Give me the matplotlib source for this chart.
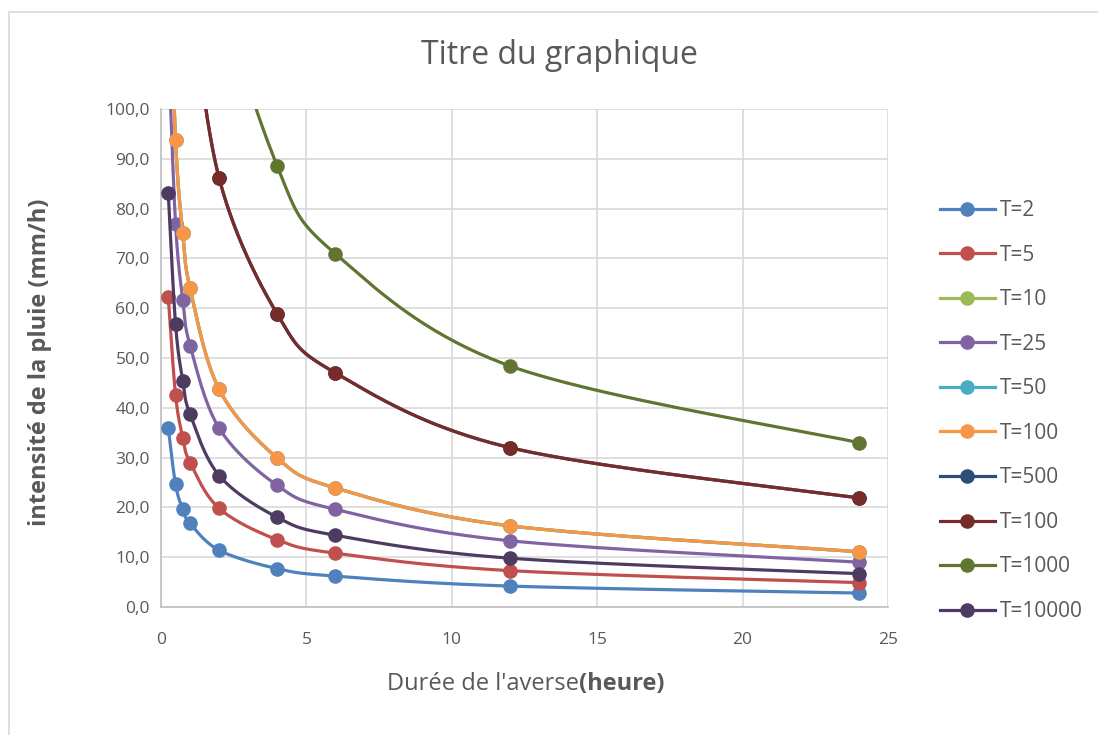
import numpy as np
import matplotlib
matplotlib.use("Agg")
import matplotlib.pyplot as plt
from matplotlib.lines import Line2D
from matplotlib.patches import Rectangle
from matplotlib.ticker import FuncFormatter, MultipleLocator

# Durées de l'averse (heures)
durees = [0.25, 0.5, 0.75, 1, 2, 4, 6, 12, 24]

# Intensités (mm/h) par période de retour
t2 = [36.0, 24.6, 19.6, 16.8, 11.4, 7.7, 6.2, 4.2, 2.8]
t5 = [62.3, 42.6, 34.0, 29.0, 19.8, 13.5, 10.8, 7.3, 4.9]
t10 = [137.5, 93.8, 75.0, 64.0, 43.7, 29.9, 23.9, 16.3, 11.1]
t25 = [112.8, 77.0, 61.6, 52.5, 35.9, 24.4, 19.6, 13.3, 9.0]
t50 = [137.5, 93.8, 75.0, 64.0, 43.7, 29.9, 23.9, 16.3, 11.1]
t100 = [137.5, 93.8, 75.0, 64.0, 43.7, 29.9, 23.9, 16.3, 11.1]
t500 = [268.0, 184.0, 147.0, 126.0, 86.1, 58.8, 47.0, 32.0, 21.9]
t100b = [268.0, 184.0, 147.0, 126.0, 86.1, 58.8, 47.0, 32.0, 21.9]
t1000 = [405.0, 277.0, 221.0, 189.0, 129.0, 88.5, 70.9, 48.4, 33.0]
t10000 = [83.1, 56.8, 45.4, 38.7, 26.4, 18.0, 14.4, 9.8, 6.7]

labels = ["T=2", "T=5", "T=10", "T=25", "T=50", "T=100", "T=500",
          "T=100", "T=1000", "T=10000"]
series = [t2, t5, t10, t25, t50, t100, t500, t100b, t1000, t10000]
colors = ["#4F81BD", "#C0504D", "#9BBB59", "#8064A2", "#4BACC6",
          "#F79646", "#2C4D75", "#772C2A", "#5F7530", "#4D3B62"]

TEXT = "#595959"
GRID = "#D9D9D9"
plt.rcParams["font.family"] = ["Open Sans", "DejaVu Sans"]

fig = plt.figure(figsize=(10.98, 7.35), dpi=100)
fig.patches.append(Rectangle((8.5 / 1098, -0.01), 1.2, 1 - 11.5 / 735 + 0.01,
                             transform=fig.transFigure, fill=False,
                             edgecolor=GRID, lw=1.2))
ax = fig.add_axes([161 / 1098, 1 - 607 / 735, 727 / 1098, 498 / 735])
ax.set_xlim(0, 25)
ax.set_ylim(0, 100)


def smooth(xs, ys, n=40):
    """Courbe lissée (Bézier cardinal) calculée en coordonnées écran."""
    pts = ax.transData.transform(np.column_stack([xs, ys]))
    p = np.vstack([pts[0], pts, pts[-1]])
    out = [pts[0]]
    t = np.linspace(0, 1, n)[1:, None]
    for i in range(1, len(p) - 2):
        p0, p1, p2, p3 = p[i - 1], p[i], p[i + 1], p[i + 2]
        c1 = p1 + (p2 - p0) / 6.0
        c2 = p2 - (p3 - p1) / 6.0
        seg = ((1 - t) ** 3) * p1 + 3 * ((1 - t) ** 2) * t * c1 \
            + 3 * (1 - t) * t ** 2 * c2 + t ** 3 * p2
        out.extend(seg)
    data = ax.transData.inverted().transform(np.array(out))
    return data[:, 0], data[:, 1]


for vals, col in zip(series, colors):
    sx, sy = smooth(durees, vals)
    ax.plot(sx, sy, color=col, lw=2.3, solid_capstyle="round", zorder=3)
    ax.plot(durees, vals, ls="none", marker="o", ms=10.5, color=col,
            markeredgewidth=0, zorder=3)

ax.xaxis.set_major_locator(MultipleLocator(5))
ax.yaxis.set_major_locator(MultipleLocator(10))
ax.yaxis.set_major_formatter(FuncFormatter(lambda v, _: f"{v:.1f}".replace(".", ",")))
ax.grid(True, color=GRID, lw=1.2, zorder=0)
ax.set_axisbelow(True)
for s in ["top", "right"]:
    ax.spines[s].set_visible(False)
for s in ["left", "bottom"]:
    ax.spines[s].set_color("#BFBFBF")
    ax.spines[s].set_linewidth(1.2)
ax.tick_params(length=0, labelsize=12.5, colors=TEXT)
ax.tick_params(axis="y", pad=8)
ax.tick_params(axis="x", pad=18)

fig.text(559 / 1098, 1 - 56 / 735, "Titre du graphique", ha="center",
         va="center", fontsize=23, color=TEXT)
fig.text(40 / 1098, 1 - 362 / 735, "intensité de la pluie (mm/h)",
         rotation=90, ha="center", va="center", fontsize=17,
         fontweight="bold", color=TEXT)

# Titre de l'axe horizontal en deux parties (normal + gras)
r = fig.canvas.get_renderer()
t1 = fig.text(0, 1 - 684 / 735, "Durée de l'averse", ha="left", va="center",
              fontsize=17, color=TEXT)
t2b = fig.text(0, 1 - 684 / 735, "(heure)", ha="left", va="center",
               fontsize=17, fontweight="bold", color=TEXT)
w1 = t1.get_window_extent(r).width
w2 = t2b.get_window_extent(r).width
x0 = 526 - (w1 + w2) / 2
t1.set_x(x0 / 1098)
t2b.set_x((x0 + w1) / 1098)

handles = [Line2D([], [], color=c, lw=2.3, marker="o", ms=10.5,
                  markeredgewidth=0) for c in colors]
fig.legend(handles, labels, loc="center left",
           bbox_to_anchor=(932 / 1098, 1 - 411 / 735), frameon=False,
           fontsize=15, labelcolor=TEXT, handlelength=2.6,
           handletextpad=0.25, labelspacing=1.13, borderaxespad=0)

fig.savefig("out.png", dpi=100, facecolor="white")
